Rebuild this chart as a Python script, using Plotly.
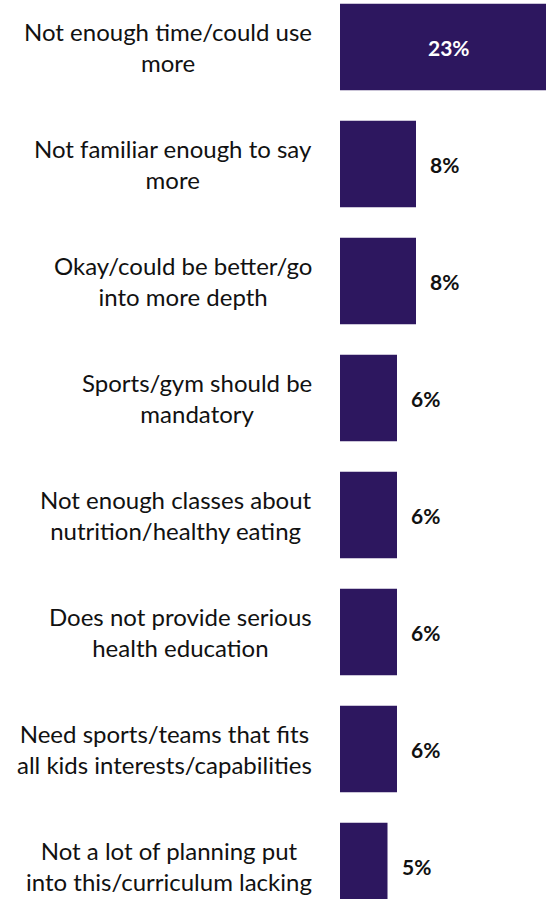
import plotly.graph_objects as go

categories = [
    "Not enough time/could use<br>more",
    "Not familiar enough to say<br>more",
    "Okay/could be better/go<br>into more depth",
    "Sports/gym should be<br>mandatory",
    "Not enough classes about<br>nutrition/healthy eating",
    "Does not provide serious<br>health education",
    "Need sports/teams that fits<br>all kids interests/capabilities",
    "Not a lot of planning put<br>into this/curriculum lacking",
]
values = [23, 8, 8, 6, 6, 6, 6, 5]
value_labels = ["23%", "8%", "8%", "6%", "6%", "6%", "6%", "5%"]

BAR_COLOR = "#2D175F"
FONT = "Lato"

positions = list(range(len(categories)))

fig = go.Figure(
    go.Bar(
        x=values,
        y=positions,
        orientation="h",
        marker=dict(color=BAR_COLOR, line=dict(width=0)),
        width=0.74,
        hoverinfo="skip",
    )
)

annotations = []
for i, (cat, v, lab) in enumerate(zip(categories, values, value_labels)):
    # category text, right-aligned block, lines centered
    annotations.append(dict(
        x=0, xref="x", xshift=-26, y=i, yref="y",
        text=cat, showarrow=False, xanchor="right", yanchor="middle",
        align="center", font=dict(family=FONT, size=24, color="#111111"),
    ))
    if v >= 15:
        annotations.append(dict(
            x=v / 2, xref="x", y=i, yref="y", text="<b>%s</b>" % lab,
            showarrow=False, xanchor="center", yanchor="middle",
            font=dict(family=FONT, size=21, color="white"),
        ))
    else:
        annotations.append(dict(
            x=v, xref="x", xshift=12, y=i, yref="y", text="<b>%s</b>" % lab,
            showarrow=False, xanchor="left", yanchor="middle",
            font=dict(family=FONT, size=21, color="#111111"),
        ))

fig.update_layout(
    width=546, height=899,
    margin=dict(l=340, r=0, t=0, b=0),
    paper_bgcolor="white", plot_bgcolor="white",
    showlegend=False,
    xaxis=dict(range=[0, 206 / 9.5], visible=False, fixedrange=True),
    yaxis=dict(range=[7.282, -0.402], visible=False, fixedrange=True),
    annotations=annotations,
)

fig.write_html("out.html")
